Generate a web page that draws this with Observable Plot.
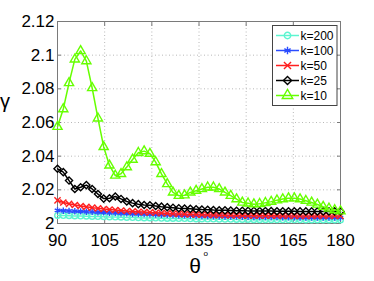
<!DOCTYPE html>
<html><head><meta charset="utf-8">
<script src="https://cdn.jsdelivr.net/npm/d3@7"></script>
<script src="https://cdn.jsdelivr.net/npm/@observablehq/plot@0.6"></script>
<style>body{margin:0;background:#fff;} svg{display:block}</style>
</head><body><div id="chart"></div>
<script>
const theta = [90, 91.84, 93.67, 95.51, 97.35, 99.18, 101.02, 102.86, 104.69, 106.53,
  108.37, 110.2, 112.04, 113.88, 115.71, 117.55, 119.39, 121.22, 123.06, 124.9,
  126.73, 128.57, 130.41, 132.24, 134.08, 135.92, 137.76, 139.59, 141.43, 143.27,
  145.1, 146.94, 148.78, 150.61, 152.45, 154.29, 156.12, 157.96, 159.8, 161.63,
  163.47, 165.31, 167.14, 168.98, 170.82, 172.65, 174.49, 176.33, 178.16, 180];

const k200 = [2.0048, 2.0047, 2.0046, 2.0045, 2.0044, 2.0043, 2.0042, 2.0041, 2.0040, 2.0039,
  2.0038, 2.0037, 2.0036, 2.0035, 2.0034, 2.0033, 2.0033, 2.0032, 2.0031, 2.0030,
  2.0030, 2.0029, 2.0029, 2.0028, 2.0027, 2.0027, 2.0026, 2.0026, 2.0025, 2.0025,
  2.0025, 2.0024, 2.0024, 2.0024, 2.0023, 2.0023, 2.0023, 2.0023, 2.0022, 2.0022,
  2.0022, 2.0022, 2.0022, 2.0021, 2.0021, 2.0021, 2.0021, 2.0021, 2.0021, 2.0021];
const k100 = [2.0078, 2.0076, 2.0074, 2.0073, 2.0072, 2.0070, 2.0069, 2.0067, 2.0066, 2.0064,
  2.0063, 2.0061, 2.0060, 2.0058, 2.0057, 2.0056, 2.0055, 2.0053, 2.0052, 2.0051,
  2.0050, 2.0049, 2.0048, 2.0047, 2.0046, 2.0045, 2.0044, 2.0043, 2.0043, 2.0042,
  2.0041, 2.0041, 2.0040, 2.0040, 2.0039, 2.0039, 2.0038, 2.0038, 2.0038, 2.0037,
  2.0037, 2.0037, 2.0036, 2.0036, 2.0036, 2.0036, 2.0035, 2.0035, 2.0035, 2.0035];
const k50 = [2.0137, 2.0125, 2.0117, 2.0110, 2.0104, 2.0099, 2.0094, 2.0090, 2.0086, 2.0083,
  2.0080, 2.0077, 2.0074, 2.0072, 2.0070, 2.0068, 2.0066, 2.0064, 2.0062, 2.0060,
  2.0058, 2.0057, 2.0055, 2.0054, 2.0053, 2.0052, 2.0051, 2.0050, 2.0049, 2.0049,
  2.0048, 2.0048, 2.0047, 2.0047, 2.0047, 2.0046, 2.0046, 2.0046, 2.0046, 2.0045,
  2.0045, 2.0045, 2.0045, 2.0045, 2.0045, 2.0045, 2.0045, 2.0045, 2.0045, 2.0045];
const k25 = [2.0325, 2.0305, 2.0255, 2.0205, 2.0215, 2.0228, 2.0205, 2.0175, 2.0148, 2.0150,
  2.0160, 2.0146, 2.0131, 2.0121, 2.0115, 2.0110, 2.0108, 2.0104, 2.0100, 2.0097,
  2.0094, 2.0091, 2.0089, 2.0087, 2.0085, 2.0083, 2.0082, 2.0080, 2.0079, 2.0078,
  2.0077, 2.0076, 2.0076, 2.0075, 2.0075, 2.0074, 2.0074, 2.0074, 2.0073, 2.0073,
  2.0073, 2.0073, 2.0072, 2.0072, 2.0072, 2.0072, 2.0072, 2.0072, 2.0072, 2.0072];
const k10 = [2.0575, 2.0680, 2.0835, 2.0975, 2.1025, 2.0965, 2.0805, 2.0625, 2.0455, 2.0345,
  2.0285, 2.0295, 2.0335, 2.0380, 2.0420, 2.0430, 2.0415, 2.0365, 2.0295, 2.0235,
  2.0185, 2.0165, 2.0168, 2.0185, 2.0195, 2.0205, 2.0215, 2.0215, 2.0205, 2.0185,
  2.0165, 2.0145, 2.0125, 2.0120, 2.0115, 2.0117, 2.0123, 2.0130, 2.0138, 2.0145,
  2.0150, 2.0150, 2.0145, 2.0135, 2.0125, 2.0113, 2.0100, 2.0090, 2.0080, 2.0073];

const seriesNames = ["k=200", "k=100", "k=50", "k=25", "k=10"];
const seriesColors = ["#5cf5d0", "#2a4cff", "#ff1f1f", "#000000", "#66ff00"];
const seriesSymbols = ["circle", "asterisk", "times", "diamond2", "triangle"];
const seriesR = [2.8, 3.0, 2.9, 3.2, 3.4];
const xTicks = [90, 105, 120, 135, 150, 165, 180];
const yTicks = [2, 2.02, 2.04, 2.06, 2.08, 2.1, 2.12];

const seriesValues = [k200, k100, k50, k25, k10];
const tables = seriesValues.map((vals, s) => vals.map((v, i) => ({theta: theta[i], gamma: v, k: seriesNames[s]})));

const dataMarks = tables.flatMap((t, s) => [
  Plot.line(t, {x: "theta", y: "gamma", stroke: seriesColors[s], strokeWidth: 1.5}),
  Plot.dot(t, {x: "theta", y: "gamma", stroke: seriesColors[s], fill: "none", symbol: seriesSymbols[s], r: seriesR[s], strokeWidth: 1.4})
]);

const fmt = d3.format("~g");
const FONT = "'Liberation Sans', Arial, sans-serif";
const chart = Plot.plot({
  width: 374, height: 281,
  marginLeft: 57, marginRight: 34, marginTop: 21, marginBottom: 58,
  x: {domain: [90, 180]},
  y: {domain: [2, 2.12]},
  style: {fontFamily: FONT, fontSize: "17px", color: "#000", background: "#fff"},
  marks: [
    Plot.gridX(xTicks.slice(1, -1), {stroke: "#b8b8b8", strokeOpacity: 1, strokeDasharray: "1,2.5"}),
    Plot.gridY(yTicks.slice(1, -1), {stroke: "#b8b8b8", strokeOpacity: 1, strokeDasharray: "1,2.5"}),
    Plot.frame({stroke: "#7a7a7a"}),
    Plot.axisX(xTicks, {anchor: "bottom", tickSize: -4, tickFormat: () => "", label: null, stroke: "#7a7a7a"}),
    Plot.axisX(xTicks, {anchor: "top", tickSize: -4, tickFormat: () => "", label: null, stroke: "#7a7a7a"}),
    Plot.axisY(yTicks, {anchor: "left", tickSize: -4, tickFormat: () => "", label: null, stroke: "#7a7a7a"}),
    Plot.axisY(yTicks, {anchor: "right", tickSize: -4, tickFormat: () => "", label: null, stroke: "#7a7a7a"}),
    Plot.axisX(xTicks, {anchor: "bottom", tickSize: 0, tickPadding: 10, tickFormat: fmt, label: null, fontSize: 17, fill: "#000"}),
    Plot.axisY(yTicks, {anchor: "left", tickSize: 0, tickPadding: 3, tickFormat: fmt, label: null, fontSize: 17, fill: "#000"}),
    ...dataMarks
  ]
});

const svg = d3.select(chart);
// axis titles
svg.append("text").attr("x", 0).attr("y", 108).attr("text-anchor", "start")
  .attr("font-size", 20).attr("font-family", FONT).attr("fill", "#000").text("γ");
svg.append("text").attr("x", 195).attr("y", 273).attr("text-anchor", "middle")
  .attr("font-size", 21).attr("font-family", FONT).attr("fill", "#000").text("θ");
svg.append("text").attr("x", 203.5).attr("y", 256).attr("text-anchor", "start")
  .attr("font-size", 8).attr("font-family", FONT).attr("fill", "#000").text("o");

// legend
const lg = svg.append("g");
lg.append("rect").attr("x", 272.5).attr("y", 25.5).attr("width", 64.5).attr("height", 80)
  .attr("fill", "#fff").attr("stroke", "#444").attr("stroke-width", 1);
const symMap = {circle: d3.symbolCircle, asterisk: d3.symbolAsterisk, times: d3.symbolTimes, diamond2: d3.symbolDiamond2, triangle: d3.symbolTriangle};
seriesNames.forEach((name, s) => {
  const cy = 35.5 + 15 * s;
  lg.append("line").attr("x1", 276).attr("x2", 299).attr("y1", cy).attr("y2", cy)
    .attr("stroke", seriesColors[s]).attr("stroke-width", 1.5);
  lg.append("path").attr("transform", `translate(287.5,${cy})`)
    .attr("d", d3.symbol(symMap[seriesSymbols[s]], Math.PI * seriesR[s] * seriesR[s] * 1.3)())
    .attr("fill", "none").attr("stroke", seriesColors[s]).attr("stroke-width", 1.4);
  lg.append("text").attr("x", 300.5).attr("y", cy).attr("dy", "0.35em").attr("text-anchor", "start")
    .attr("font-size", 12).attr("font-family", FONT).attr("fill", "#000").text(name);
});

document.getElementById("chart").appendChild(chart);
</script>
</body></html>
